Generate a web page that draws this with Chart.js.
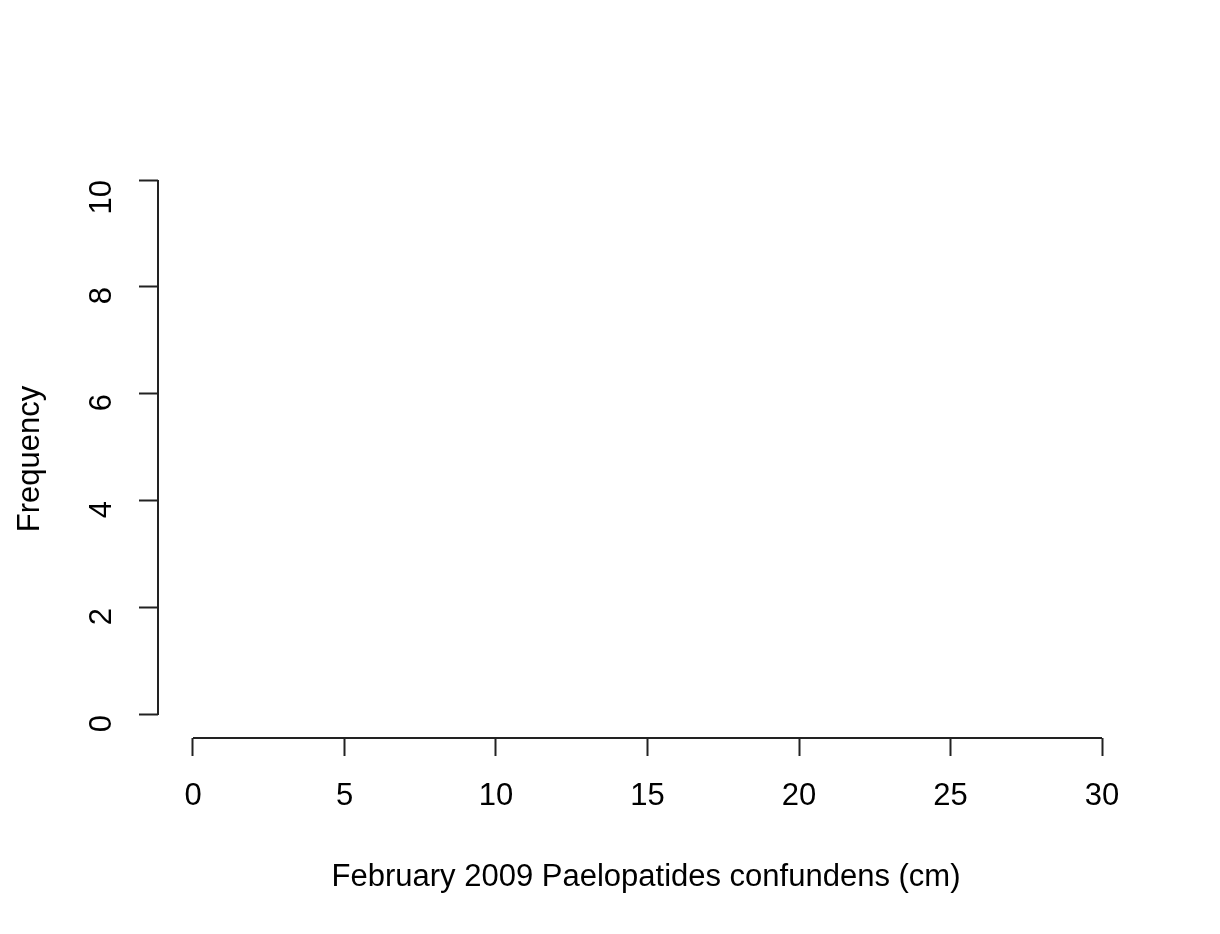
<!DOCTYPE html>
<html>
<head>
<meta charset="utf-8">
<script src="https://cdn.jsdelivr.net/npm/chart.js@4.4.0/dist/chart.umd.min.js"></script>
<style>
  html, body { margin: 0; padding: 0; background: #fff; }
  #wrap { width: 1220px; height: 934px; }
</style>
</head>
<body>
<div id="wrap"><canvas id="hist"></canvas></div>
<script>
// Histogram data: bins (cm) and counts — the reference shows no bars
const binEdges = [];
const frequencies = [];
const xTicks = [0, 5, 10, 15, 20, 25, 30];
const yTicks = [0, 2, 4, 6, 8, 10];
const xLabel = "February 2009 Paelopatides confundens (cm)";
const yLabel = "Frequency";

const AXIS_COLOR = "#222";
const FONT = "'Liberation Sans', Arial, sans-serif";

// R-style detached axes: line only spans first..last tick
const rAxes = {
  id: "rAxes",
  afterDraw(chart) {
    const ctx = chart.ctx;
    const x = chart.scales.x;
    const y = chart.scales.y;
    ctx.save();
    ctx.strokeStyle = AXIS_COLOR;
    ctx.lineWidth = 2;
    ctx.beginPath();
    ctx.moveTo(x.getPixelForValue(xTicks[0]), x.top);
    ctx.lineTo(x.getPixelForValue(xTicks[xTicks.length - 1]), x.top);
    ctx.moveTo(y.right, y.getPixelForValue(yTicks[0]));
    ctx.lineTo(y.right, y.getPixelForValue(yTicks[yTicks.length - 1]));
    ctx.stroke();
    ctx.restore();
  },
};

Chart.defaults.font.family = FONT;
Chart.defaults.color = "#000";

new Chart(document.getElementById("hist"), {
  type: "bar",
  data: {
    labels: binEdges,
    datasets: [
      {
        label: yLabel,
        data: frequencies,
        backgroundColor: "#fff",
        borderColor: AXIS_COLOR,
        borderWidth: 1,
      },
    ],
  },
  options: {
    responsive: true,
    maintainAspectRatio: false,
    animation: false,
    layout: { padding: { top: 180, right: 86, bottom: 0, left: 0 } },
    plugins: { legend: { display: false }, tooltip: { enabled: false } },
    scales: {
      x: {
        type: "linear",
        min: -1.155,
        max: 31.056,
        offset: false,
        afterBuildTicks: (s) => { s.ticks = xTicks.map((v) => ({ value: v })); },
        afterFit: (s) => { s.height = 934 - 738; },
        border: { display: false },
        grid: { offset: false, drawOnChartArea: false, drawTicks: true, tickLength: 18, tickWidth: 2, tickColor: AXIS_COLOR },
        ticks: { font: { size: 31 }, padding: 22, maxRotation: 0, autoSkip: false },
        title: { display: true, text: xLabel, font: { size: 31 }, padding: { top: 0, bottom: 38 } },
      },
      y: {
        type: "linear",
        min: -0.43,
        max: 10,
        afterBuildTicks: (s) => { s.ticks = yTicks.map((v) => ({ value: v })); },
        afterFit: (s) => { s.width = 158; },
        border: { display: false },
        grid: { drawOnChartArea: false, drawTicks: true, tickLength: 19, tickWidth: 2, tickColor: AXIS_COLOR },
        ticks: { font: { size: 31 }, padding: 37, minRotation: 90, maxRotation: 90, autoSkip: false },
        title: { display: true, text: yLabel, font: { size: 31 }, padding: { top: 12, bottom: 0 } },
      },
    },
  },
  plugins: [rAxes],
});
</script>
</body>
</html>
